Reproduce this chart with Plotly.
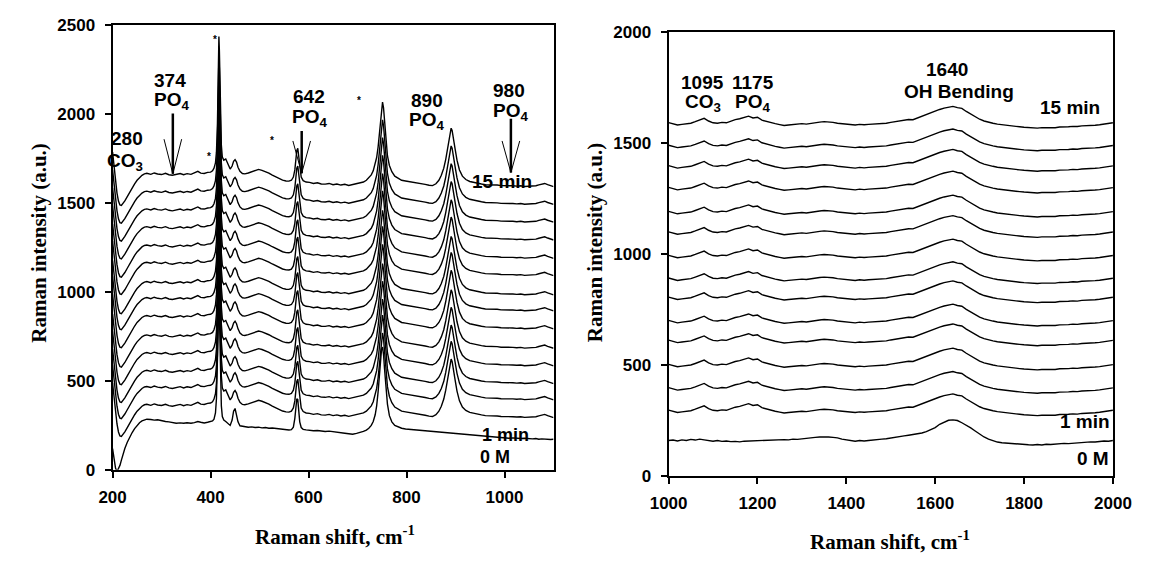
import plotly.graph_objects as go

# ---- left panel: 200-1100 cm-1 ----
left_shift = [
    200, 203, 206, 209, 212, 215, 218, 221, 225, 230,
    235, 240, 245, 250, 255, 260, 265, 270, 278, 285,
    292, 300, 308, 315, 322, 330, 338, 345, 352, 360,
    367, 374, 380, 387, 394, 400, 404, 407, 410, 412,
    414, 415, 416, 417, 418, 419, 420, 422, 424, 427,
    431, 435, 440, 444, 447, 450, 453, 456, 460, 465,
    470, 477, 484, 491, 498, 505, 512, 519, 526, 533,
    540, 547, 554, 560, 565, 569, 572, 574, 576, 578,
    580, 582, 585, 589, 595, 602, 610, 618, 626, 634,
    642, 650, 658, 666, 674, 682, 690, 698, 706, 712,
    718, 723, 728, 732, 736, 739, 742, 745, 747, 749,
    751, 753, 755, 758, 761, 765, 770, 776, 783, 790,
    798, 806, 814, 822, 830, 838, 846, 853, 860, 866,
    871, 876, 880, 884, 887, 889, 891, 893, 896, 899,
    903, 908, 914, 921, 929, 937, 945, 953, 961, 969,
    977, 985, 993, 1001, 1009, 1017, 1025, 1033, 1041, 1049,
    1057, 1064, 1070, 1076, 1082, 1088, 1094, 1100,
]

# 15 min spectrum (top trace)
left_15min = [
    1790, 1700, 1620, 1560, 1515, 1493, 1490, 1500, 1516, 1540,
    1566, 1590, 1612, 1632, 1648, 1660, 1668, 1671, 1665, 1673,
    1667, 1664, 1671, 1663, 1660, 1666, 1670, 1663, 1669, 1665,
    1673, 1682, 1672, 1670, 1676, 1678, 1685, 1700, 1730, 1790,
    1950, 2120, 2330, 2441, 2360, 2180, 2000, 1830, 1762, 1745,
    1752, 1725, 1695, 1712, 1738, 1748, 1734, 1705, 1682, 1670,
    1668, 1673, 1680, 1687, 1693, 1688, 1681, 1672, 1661, 1652,
    1641, 1633, 1628, 1627, 1632, 1650, 1690, 1750, 1800, 1812,
    1770, 1700, 1650, 1630, 1622, 1620, 1614, 1618, 1611, 1610,
    1614, 1607, 1611, 1605, 1609, 1603, 1607, 1612, 1615, 1622,
    1632, 1645, 1662, 1685, 1720, 1760, 1820, 1910, 1990, 2055,
    2072, 2040, 1960, 1850, 1770, 1715, 1680, 1655, 1641, 1632,
    1628, 1625, 1621, 1617, 1612, 1609, 1604, 1602, 1612, 1632,
    1660, 1700, 1750, 1810, 1870, 1905, 1925, 1912, 1870, 1810,
    1745, 1690, 1655, 1636, 1625, 1619, 1613, 1611, 1607, 1607,
    1604, 1605, 1602, 1603, 1600, 1601, 1599, 1601, 1597, 1598,
    1597, 1601, 1606, 1612, 1614, 1607, 1600, 1596,
]

# 0 M spectrum (bottom trace)
left_0M = [
    120, 60, 10, -10, 5, 25, 55, 85, 120, 155,
    185, 210, 232, 250, 265, 275, 282, 285, 283, 280,
    282, 276, 272, 270, 266, 262, 264, 262, 265, 262,
    266, 272, 268, 264, 268, 270, 275, 285, 320, 400,
    600, 780, 920, 960, 880, 700, 520, 360, 300, 280,
    272, 262, 250, 280, 330, 345, 315, 270, 248, 245,
    242, 240, 242, 238, 240, 236, 238, 234, 235, 232,
    230, 228, 226, 224, 226, 240, 290, 360, 400, 395,
    330, 270, 238, 228, 225, 222, 220, 221, 218, 216,
    218, 214, 212, 210, 206, 203, 200, 205, 210, 216,
    224, 234, 250, 272, 310, 360, 440, 540, 620, 680,
    690, 650, 570, 460, 370, 305, 270, 250, 240, 234,
    230, 228, 224, 222, 220, 218, 215, 213, 212, 210,
    209, 208, 207, 206, 205, 205, 204, 204, 203, 202,
    201, 200, 198, 196, 194, 192, 190, 188, 186, 184,
    182, 183, 180, 179, 178, 180, 177, 176, 178, 175,
    174, 176, 172, 174, 172, 173, 171, 172,
]

# level of each time trace at 1100 cm-1, 1 min ... 15 min
left_levels = [294, 394, 485, 585, 684, 793, 894, 984, 1093, 1190, 1293, 1393, 1493, 1593]

# ---- right panel: 1000-2000 cm-1 ----
right_shift = list(range(1000, 2001, 10))

right_15min = [
    1593, 1586, 1582, 1585, 1588, 1590, 1597, 1606, 1612, 1600,
    1592, 1590, 1594, 1592, 1600, 1606, 1610, 1616, 1622, 1614,
    1617, 1604, 1598, 1592, 1588, 1584, 1580, 1582, 1584, 1586,
    1588, 1586, 1590, 1592, 1595, 1597, 1596, 1594, 1590, 1588,
    1586, 1584, 1582, 1585, 1583, 1585, 1586, 1588, 1591, 1590,
    1594, 1597, 1600, 1602, 1607, 1606, 1614, 1620, 1630, 1638,
    1646, 1652, 1658, 1662, 1666, 1660, 1657, 1643, 1632, 1618,
    1608, 1600, 1594, 1590, 1586, 1583, 1580, 1577, 1576, 1574,
    1572, 1570, 1571, 1568, 1570, 1569, 1571, 1570, 1573, 1572,
    1574, 1576, 1575, 1578, 1578, 1580, 1581, 1583, 1585, 1588,
    1592,
]

right_0M = [
    160, 162, 158, 163, 160, 165, 162, 166, 163, 160,
    157, 160, 156, 158, 155, 156, 154, 157, 158, 156,
    160, 158, 161, 160, 162, 162, 164, 163, 166, 165,
    168, 170, 172, 174, 176, 177, 176, 174, 172, 166,
    162, 158, 157, 160, 158, 160, 161, 164, 166, 168,
    172, 176, 178, 181, 184, 187, 190, 194, 200, 208,
    218, 233, 243, 251, 253, 250, 240, 230, 217, 203,
    188, 176, 166, 158, 153, 150, 148, 147, 146, 144,
    143, 141, 140, 142, 140, 143, 142, 144, 145, 147,
    146, 148, 150, 149, 152, 154, 153, 156, 158, 157,
    160,
]

# level of each time trace at 2000 cm-1, 1 min ... 15 min
right_levels = [296, 397, 502, 611, 700, 805, 891, 993, 1099, 1191, 1299, 1397, 1489, 1591]

W, H = 1151, 562
BLACK = "#000000"
SANS = "Liberation Sans, Arial, sans-serif"
SERIF = "Liberation Serif, Times New Roman, serif"

fig = go.Figure()

line = dict(color=BLACK, width=1.4)
ref_l = left_15min[-1]
for lvl in left_levels:
    fig.add_trace(go.Scatter(x=left_shift, y=[v + lvl - ref_l for v in left_15min],
                             mode="lines", line=line, xaxis="x", yaxis="y"))
fig.add_trace(go.Scatter(x=left_shift, y=left_0M, mode="lines", line=line, xaxis="x", yaxis="y"))

ref_r = right_15min[-1]
for lvl in right_levels:
    fig.add_trace(go.Scatter(x=right_shift, y=[v + lvl - ref_r for v in right_15min],
                             mode="lines", line=line, xaxis="x2", yaxis="y2"))
fig.add_trace(go.Scatter(x=right_shift, y=right_0M, mode="lines", line=line, xaxis="x2", yaxis="y2"))

axis_style = dict(showgrid=False, zeroline=False, showline=True, linecolor=BLACK, linewidth=2,
                  mirror=True, ticks="outside", ticklen=6, tickwidth=2, tickcolor=BLACK,
                  tickfont=dict(family=SANS, size=17, color=BLACK, weight="bold"))
xstyle = dict(ticklabelstandoff=5, **axis_style)
ystyle = dict(ticklabelstandoff=6, **axis_style)

# the page body adds an 8px margin, so pixel positions below are screen minus 8
fig.update_layout(
    width=W, height=H, margin=dict(l=0, r=0, t=0, b=0),
    paper_bgcolor="white", plot_bgcolor="white", showlegend=False,
    xaxis=dict(domain=[88.5 / W, 544.5 / W], range=[200, 1100], dtick=200, anchor="y", **xstyle),
    yaxis=dict(domain=[1 - 468.7 / H, 1 - 8.7 / H], range=[0, 2500], dtick=500, anchor="x", **ystyle),
    xaxis2=dict(domain=[663.5 / W, 1123 / W], range=[1000, 2000], dtick=200, anchor="y2", **xstyle),
    yaxis2=dict(domain=[1 - 475.1 / H, 1 - 15.5 / H], range=[0, 2000], dtick=500, anchor="x2", **ystyle),
)

ann = []


def label(text, x, y, ax="x", ay="y", size=19, xanchor="center"):
    ann.append(dict(text=text, x=x, y=y, xref=ax, yref=ay, showarrow=False, xanchor=xanchor,
                    yanchor="middle", font=dict(family=SANS, size=size, color=BLACK, weight="bold")))


# left panel labels
for t, x, y in [("280", 229, 1866), ("CO<sub>3</sub>", 226, 1730),
                ("374", 318, 2192), ("PO<sub>4</sub>", 321, 2074),
                ("642", 600, 2102), ("PO<sub>4</sub>", 602, 1980),
                ("890", 841, 2078), ("PO<sub>4</sub>", 841, 1960),
                ("980", 1010, 2133), ("PO<sub>4</sub>", 1012, 2013),
                ("15 min", 994, 1621)]:
    label(t, x, y)
label("1 min", 1002, 198, size=18)
label("0 M", 981, 72, size=18)
for x, y in [(409, 2423), (396, 1764), (525, 1855), (702, 2078)]:
    label("*", x, y, size=10)

# right panel labels
for t, x, y in [("1095", 1077, 1774), ("CO<sub>3</sub>", 1077, 1680),
                ("1175", 1189, 1774), ("PO<sub>4</sub>", 1189, 1680),
                ("1640", 1626, 1833), ("OH Bending", 1654, 1731),
                ("15 min", 1904, 1658)]:
    label(t, x, y, "x2", "y2")
label("1 min", 1999, 245, "x2", "y2", xanchor="right")
label("0 M", 1995, 77, "x2", "y2", xanchor="right")

# axis titles (explicit anchors so paper-referenced text is centred where placed)
title_font = dict(family=SERIF, size=21, color=BLACK, weight="bold")
for t, x, y, ang in [("Raman intensity (a.u.)", 12, 234, -90),
                     ("Raman intensity (a.u.)", 587.5, 233, -90),
                     ("Raman shift, cm<sup>-1</sup>", 318.5, 537, 0),
                     ("Raman shift, cm<sup>-1</sup>", 892.5, 542, 0)]:
    ann.append(dict(text=t, x=x / W, y=1 - y / H, xref="paper", yref="paper", showarrow=False,
                    xanchor="center", yanchor="middle", textangle=ang, font=title_font))
fig.update_layout(annotations=ann)

# peak arrows (vertical stem + V head)
shapes = []
for x0, top, tip, vtop in [(323, 2005, 1665, 1860), (586, 1906, 1668, 1850), (1013, 1975, 1672, 1850)]:
    shapes.append(dict(type="line", xref="x", yref="y", x0=x0, x1=x0, y0=top, y1=tip,
                       line=dict(color=BLACK, width=2.5)))
    shapes.append(dict(type="line", xref="x", yref="y", x0=x0 - 18, x1=x0, y0=vtop, y1=tip,
                       line=dict(color=BLACK, width=1)))
    shapes.append(dict(type="line", xref="x", yref="y", x0=x0 + 18, x1=x0, y0=vtop, y1=tip,
                       line=dict(color=BLACK, width=1)))
fig.update_layout(shapes=shapes)

fig.write_html("out.html")
